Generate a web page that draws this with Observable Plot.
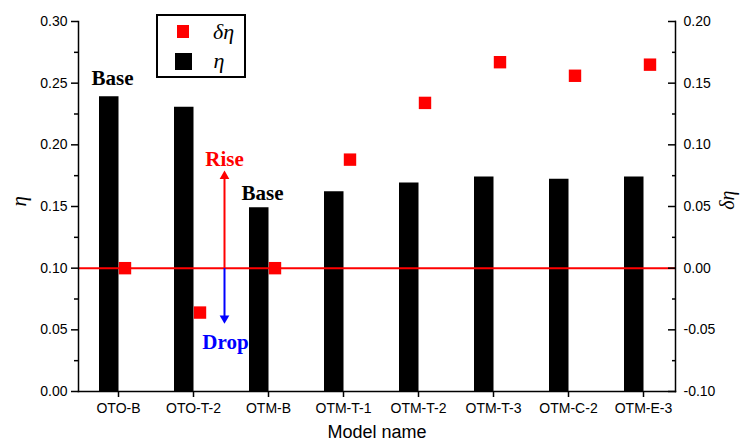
<!DOCTYPE html>
<html>
<head>
<meta charset="utf-8">
<script src="https://cdn.jsdelivr.net/npm/d3@7"></script>
<script src="https://cdn.jsdelivr.net/npm/@observablehq/plot@0.6"></script>
<style>
  html, body { margin: 0; padding: 0; background: #fff; }
  #wrap { position: relative; width: 740px; height: 446px; }
  #legend { position: absolute; left: 156px; top: 14px; width: 86px; height: 60px; border: 2px solid #000; background: #fff; }
  .sw { position: absolute; }
  .lt { position: absolute; font-family: "Liberation Serif", serif; font-style: italic; font-size: 22px; line-height: 1; transform: translate(-50%, -50%); }
</style>
</head>
<body>
<div id="wrap">
  <div id="chart"></div>
  <div id="legend"></div>
</div>
<script>
// ---- data ----
const models = ["OTO-B", "OTO-T-2", "OTM-B", "OTM-T-1", "OTM-T-2", "OTM-T-3", "OTM-C-2", "OTM-E-3"];
const eta = [0.239, 0.2305, 0.149, 0.162, 0.169, 0.174, 0.172, 0.174];
const deltaEta = [0.0, -0.036, 0.0, 0.088, 0.134, 0.167, 0.156, 0.165];

const leftTicks = [0, 0.05, 0.10, 0.15, 0.20, 0.25, 0.30];
const leftTickLabels = ["0.00", "0.05", "0.10", "0.15", "0.20", "0.25", "0.30"];
const minorTicks = [0.025, 0.075, 0.125, 0.175, 0.225, 0.275];
const rightTickLabels = ["-0.10", "-0.05", "0.00", "0.05", "0.10", "0.15", "0.20"];
const deltaOffset = 0.10; // right axis δη = η − 0.10

const baseModels = ["OTO-B", "OTM-B"];
const baseLabelY = [0.254, 0.1605];

const riseDrop = {model: "OTO-T-2", from: 0.10, riseTip: 0.179, dropTip: 0.055, riseLabel: 0.188, dropLabel: 0.0397};

// ---- tables built from arrays ----
const rows = models.map((m, i) => ({model: m, eta: eta[i], d: deltaEta[i] + deltaOffset}));
const baseRows = baseModels.map((m, i) => ({model: m, y: baseLabelY[i]}));

const serif = "Liberation Serif, Times New Roman, serif";
const tickFont = 14;

const chart = Plot.plot({
  width: 740,
  height: 446,
  marginLeft: 78,
  marginRight: 65,
  marginTop: 21,
  marginBottom: 55,
  style: {fontFamily: "Liberation Sans, Arial, sans-serif", fontSize: "14px", color: "#000", background: "#fff", overflow: "visible"},
  x: {type: "point", domain: models, padding: 0, insetLeft: 38, insetRight: 29.5},
  y: {domain: [0, 0.30]},
  marks: [
    // bars (η)
    Plot.ruleX(rows, {x: "model", y1: 0, y2: "eta", stroke: "#000", strokeWidth: 19.5, dx: -9.75}),
    // zero line of δη
    Plot.ruleY([deltaOffset], {stroke: "#ff0000", strokeWidth: 2}),
    // δη squares
    Plot.dot(rows, {x: "model", y: "d", symbol: "square", r: 7, fill: "#ff0000", dx: 6.5}),

    // left axis
    Plot.axisY({anchor: "left", ticks: leftTicks, tickSize: 7, tickPadding: 4, fontSize: tickFont, tickFormat: d => leftTickLabels[leftTicks.indexOf(d)], label: null, strokeWidth: 1.5}),
    Plot.axisY({anchor: "left", ticks: minorTicks, tickSize: 4, fill: "none", label: null, strokeWidth: 1.5}),
    // right axis (ticks point inward)
    Plot.axisY({anchor: "right", ticks: leftTicks, tickSize: 0, tickPadding: 8, fontSize: tickFont, tickFormat: d => rightTickLabels[leftTicks.indexOf(d)], label: null}),
    Plot.axisY({anchor: "right", ticks: leftTicks, tickSize: 8, dx: -8, fill: "none", label: null, strokeWidth: 1.5}),
    Plot.axisY({anchor: "right", ticks: minorTicks, tickSize: 4, dx: -4, fill: "none", label: null, strokeWidth: 1.5}),
    // x axis
    Plot.axisX({anchor: "bottom", tickSize: 6, tickPadding: 6, fontSize: tickFont, label: null, strokeWidth: 1.5}),
    Plot.frame({anchor: "left", strokeWidth: 1.5}),
    Plot.frame({anchor: "right", strokeWidth: 1.5}),
    Plot.frame({anchor: "bottom", strokeWidth: 1.5}),

    // axis titles
    Plot.text(["Model name"], {frameAnchor: "bottom", dy: 46, fontSize: 18}),
    Plot.text(["η"], {frameAnchor: "left", dx: -59, rotate: -90, fontSize: 21, fontStyle: "italic", fontFamily: serif}),
    Plot.text(["δη"], {frameAnchor: "right", dx: 52, dy: -16, rotate: -90, fontSize: 20, fontStyle: "italic", fontFamily: serif}),

    // "Base" labels
    Plot.text(baseRows, {x: "model", y: "y", text: () => "Base", dx: -6, fontSize: 21, fontWeight: "bold", fontFamily: serif}),

    // Rise / Drop arrows
    Plot.link([riseDrop], {x1: "model", x2: "model", y1: "from", y2: d => d.riseTip - 0.004, dx: 31, stroke: "#ff0000", strokeWidth: 2}),
    Plot.dot([riseDrop], {x: "model", y: "riseTip", symbol: "triangle", r: 3.6, fill: "#ff0000", dx: 31, dy: 5.4}),
    Plot.link([riseDrop], {x1: "model", x2: "model", y1: "from", y2: d => d.dropTip + 0.004, dx: 31, stroke: "#0000ff", strokeWidth: 2}),
    Plot.dot([riseDrop], {x: "model", y: "dropTip", symbol: "triangle", rotate: 180, r: 3.6, fill: "#0000ff", dx: 31, dy: -5.4}),
    Plot.text([riseDrop], {x: "model", y: "riseLabel", text: () => "Rise", dx: 31, fill: "#ff0000", fontSize: 21, fontWeight: "bold", fontFamily: serif}),
    Plot.text([riseDrop], {x: "model", y: "dropLabel", text: () => "Drop", dx: 32, fill: "#0000ff", fontSize: 21, fontWeight: "bold", fontFamily: serif})
  ]
});
document.getElementById("chart").appendChild(chart);

// legend (inside plot area, top-left)
const legendItems = [
  {label: "δη", color: "#ff0000", size: 12.7, cy: 31.7 - 14, tx: 223.5 - 156},
  {label: "η", color: "#000000", size: 17, cy: 61 - 14, tx: 219 - 156}
];
const lg = document.getElementById("legend");
legendItems.forEach(it => {
  const s = document.createElement("div");
  s.className = "sw";
  s.style.width = it.size + "px";
  s.style.height = it.size + "px";
  s.style.background = it.color;
  s.style.left = (183 - 156 - 2 - it.size / 2) + "px";
  s.style.top = (it.cy - 2 - it.size / 2) + "px";
  lg.appendChild(s);
  const t = document.createElement("div");
  t.className = "lt";
  t.textContent = it.label;
  t.style.left = (it.tx - 2) + "px";
  t.style.top = (it.cy - 2) + "px";
  lg.appendChild(t);
});
</script>
</body>
</html>
